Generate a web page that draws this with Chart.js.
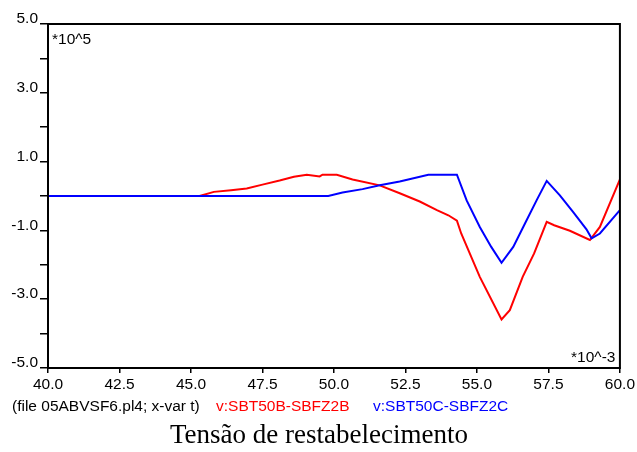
<!DOCTYPE html>
<html>
<head>
<meta charset="utf-8">
<script src="https://cdn.jsdelivr.net/npm/chart.js@4/dist/chart.umd.min.js"></script>
<style>
  body { margin: 0; background: #fff; }
  canvas { display: block; }
</style>
</head>
<body>
<canvas id="grafico" width="637" height="452"></canvas>
<script>
// --- DATOS (t en ms *10^-3, tensión en *10^5 V) ---
const redT  = [40.0, 45.3, 45.8, 46.4, 46.95, 47.5, 48.1, 48.6, 49.05, 49.5, 49.6, 50.1, 50.65, 51.6, 52.3, 53.0, 53.6, 54.0, 54.3, 54.45, 55.1, 55.86, 56.15, 56.6, 57.0, 57.44, 57.7, 58.25, 58.95, 59.3, 60.0];
const redV  = [0.0, 0.0, 0.12, 0.17, 0.22, 0.33, 0.45, 0.56, 0.62, 0.57, 0.62, 0.62, 0.48, 0.31, 0.08, -0.16, -0.41, -0.56, -0.72, -1.09, -2.35, -3.59, -3.32, -2.35, -1.67, -0.75, -0.85, -1.01, -1.28, -0.90, 0.48];
const blueT = [40.0, 49.8, 50.3, 51.0, 51.6, 52.3, 53.3, 54.3, 54.64, 55.1, 55.5, 55.86, 56.27, 56.68, 57.09, 57.44, 57.9, 58.36, 58.83, 59.01, 59.3, 60.0];
const blueV = [0.0, 0.0, 0.1, 0.2, 0.31, 0.42, 0.62, 0.62, -0.13, -0.9, -1.48, -1.94, -1.48, -0.8, -0.12, 0.44, 0.02, -0.46, -0.97, -1.23, -1.09, -0.41];

const xTicks = [40, 42.5, 45, 47.5, 50, 52.5, 55, 57.5, 60];
const yTicks = [-5, -4, -3, -2, -1, 0, 1, 2, 3, 4, 5];

const nombreArchivo = '(file 05ABVSF6.pl4; x-var t)';
const etiquetaRoja = 'v:SBT50B-SBFZ2B';
const etiquetaAzul = 'v:SBT50C-SBFZ2C';
const titulo = 'Tensão de restabelecimento';

function puntos(ts, vs) {
    return ts.map((t, i) => ({ x: t, y: vs[i] }));
}

const fuente = { family: '"Liberation Sans", Arial, sans-serif', size: 15.5 };

// Marco y textos extra (estilo PlotXY)
const marcoPlugin = {
    id: 'marco',
    afterDraw(chart) {
        const { ctx, chartArea: a } = chart;
        ctx.save();
        ctx.strokeStyle = '#000';
        ctx.lineWidth = 2;
        ctx.strokeRect(a.left, a.top, a.right - a.left, a.bottom - a.top);

        ctx.fillStyle = '#000';
        ctx.font = '15.5px "Liberation Sans", Arial, sans-serif';
        ctx.textBaseline = 'alphabetic';
        ctx.textAlign = 'left';
        ctx.fillText('*10^5', a.left + 4, a.top + 19.5);
        ctx.textAlign = 'right';
        ctx.fillText('*10^-3', a.right - 4.5, a.bottom - 6);

        ctx.textAlign = 'left';
        ctx.fillText(nombreArchivo, 12, a.bottom + 43);
        ctx.fillStyle = '#ff0000';
        ctx.fillText(etiquetaRoja, 216, a.bottom + 43);
        ctx.fillStyle = '#0000ff';
        ctx.fillText(etiquetaAzul, 373, a.bottom + 43);

        ctx.fillStyle = '#000';
        ctx.font = '27px "Liberation Serif", "Times New Roman", serif';
        ctx.textAlign = 'left';
        ctx.fillText(titulo, 170, a.bottom + 75);
        ctx.restore();
    }
};

const chart = new Chart(document.getElementById('grafico'), {
    type: 'line',
    data: {
        datasets: [
            {
                label: etiquetaAzul,
                data: puntos(blueT, blueV),
                borderColor: '#0000ff',
                borderWidth: 2,
                pointRadius: 0,
                fill: false,
                tension: 0
            },
            {
                label: etiquetaRoja,
                data: puntos(redT, redV),
                borderColor: '#ff0000',
                borderWidth: 2,
                pointRadius: 0,
                fill: false,
                tension: 0
            }
        ]
    },
    options: {
        responsive: false,
        animation: false,
        layout: { padding: { top: 24, right: 17, bottom: 54, left: 0 } },
        scales: {
            x: {
                type: 'linear',
                min: 40,
                max: 60,
                afterBuildTicks: (s) => { s.ticks = xTicks.map(v => ({ value: v })); },
                afterFit: (s) => { s.height = 30; },
                ticks: {
                    color: '#000',
                    font: fuente,
                    padding: 2,
                    maxRotation: 0,
                    callback: (v) => v.toFixed(1)
                },
                grid: { drawOnChartArea: false, drawTicks: true, tickLength: 5, color: '#000', lineWidth: 1.5 },
                border: { display: true, color: '#000', width: 2 }
            },
            y: {
                min: -5,
                max: 5,
                afterBuildTicks: (s) => { s.ticks = yTicks.map(v => ({ value: v })); },
                afterFit: (s) => { s.width = 48; },
                ticks: {
                    color: '#000',
                    font: fuente,
                    padding: 2,
                    labelOffset: -5,
                    callback: (v) => (Math.abs(v) % 2 === 1 ? v.toFixed(1) : '')
                },
                grid: { drawOnChartArea: false, drawTicks: true, tickLength: 8, color: '#000', lineWidth: 1.5 },
                border: { display: true, color: '#000', width: 2 }
            }
        },
        plugins: {
            legend: { display: false },
            tooltip: { enabled: false }
        }
    },
    plugins: [marcoPlugin]
});
</script>
</body>
</html>
